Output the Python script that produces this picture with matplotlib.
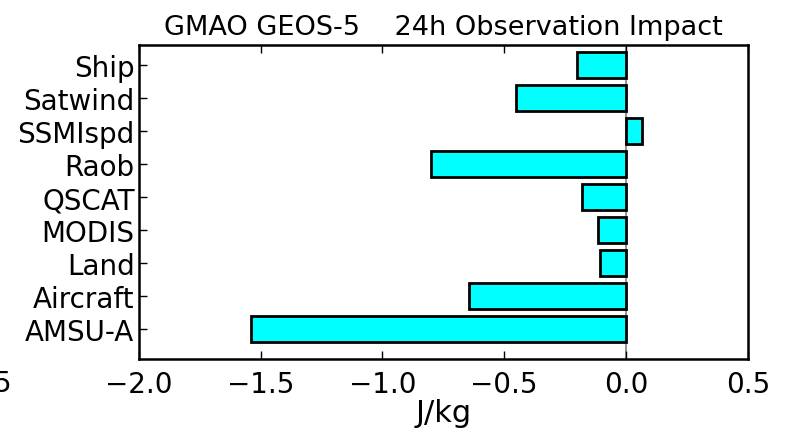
"""
Horizontal bar chart of 24h observation impact (GMAO GEOS-5)
"""
import numpy as np
import matplotlib
matplotlib.use('Agg')
import matplotlib.pyplot as plt

# Data, bottom to top
obs_types = ['AMSU-A', 'Aircraft', 'Land', 'MODIS', 'QSCAT', 'Raob', 'SSMIspd', 'Satwind', 'Ship']
impact = [-1.54, -0.645, -0.105, -0.115, -0.18, -0.80, 0.065, -0.45, -0.20]

ind = np.arange(len(obs_types))

fig = plt.figure(figsize=(7.88, 4.31), dpi=100)
ax = fig.add_axes([0.176, 0.165, 0.773, 0.728])

ax.axvline(0, color='gray', lw=1.2, zorder=1)
ax.barh(ind, impact, height=0.8, color='cyan', edgecolor='black', linewidth=2, zorder=2)

ax.set_xlim(-2.0, 0.5)
ax.set_ylim(-0.9, 8.6)
ax.set_xticks([-2.0, -1.5, -1.0, -0.5, 0.0, 0.5])
ax.set_yticks(ind)
ax.set_yticklabels(obs_types)

ax.tick_params(axis='x', direction='in', top=True, length=6, width=1, labelsize=20, pad=8)
ax.tick_params(axis='y', direction='in', length=6, width=1, labelsize=20, pad=3)
for s in ax.spines.values():
    s.set_linewidth(1.8)

ax.set_xlabel('J/kg', fontsize=22, labelpad=0)
ax.set_title('GMAO GEOS-5    24h Observation Impact', fontsize=19.5, pad=8)

# leftover of a neighbouring tick label at the left edge of the crop
fig.text(-0.008, 0.11, '5', fontsize=20, ha='left', va='center')

fig.savefig('out.png')
plt.close(fig)
